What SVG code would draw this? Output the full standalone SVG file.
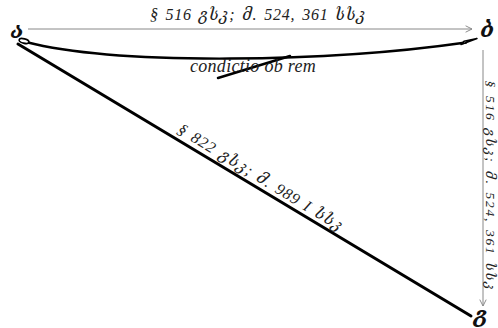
<svg xmlns="http://www.w3.org/2000/svg" width="498" height="328" viewBox="0 0 498 328">
<defs>
<marker id="open" viewBox="0 0 10 10" refX="9" refY="5" markerWidth="8" markerHeight="8" markerUnits="userSpaceOnUse" orient="auto">
<path d="M1 1 L9 5 L1 9" fill="none" stroke="#888" stroke-width="1.2"/>
</marker>
</defs>
<style>
.lbl{font-family:"Liberation Serif","DejaVu Serif",serif;font-style:italic;font-size:16px;letter-spacing:0.8px;word-spacing:2px;fill:#222}
.vlbl{font-family:"Liberation Serif","DejaVu Serif",serif;font-style:italic;font-size:13.5px;letter-spacing:1.7px;word-spacing:2px;fill:#222}
.cond{font-family:"Liberation Serif","DejaVu Serif",serif;font-style:italic;font-size:18px;letter-spacing:0.3px;fill:#222}
.node{font-family:"DejaVu Serif","Liberation Serif",serif;font-style:italic;font-weight:bold;font-size:22px;fill:#111}
.thin{stroke:#888;stroke-width:1;fill:none}
.thick{stroke:#000;fill:none;stroke-linecap:round}
</style>
<rect width="498" height="328" fill="#fff"/>
<g id="connectors">
<line class="thin" x1="28" y1="29" x2="472" y2="29" marker-end="url(#open)"/>
<line class="thin" x1="483" y1="50" x2="483" y2="306" marker-end="url(#open)"/>
<line class="thick" x1="18" y1="44" x2="471" y2="316" stroke-width="3"/>
<path class="thick" d="M26 42 C120 66 330 62 466 42.5" stroke-width="2.4"/>
<ellipse cx="24" cy="41" rx="5" ry="2.2" transform="rotate(15 24 41)" fill="#fff" stroke="#000" stroke-width="1.6"/>
<polygon points="461,44.5 477,38.5 464,41.2" fill="#fff" stroke="#000" stroke-width="1.5" stroke-linejoin="round"/>
<line class="thick" x1="218" y1="78" x2="290" y2="56" stroke-width="2.5"/>
<text class="lbl" x="258" y="20" text-anchor="middle">§ 516 გსკ; მ. 524, 361 სსკ</text>
<text class="cond" x="253" y="72" text-anchor="middle">condictio ob rem</text>
<text class="lbl" transform="translate(258 182) rotate(31.5)" text-anchor="middle">§ 822 გსკ; მ. 989 I სსკ</text>
<text class="vlbl" transform="translate(485.5 186) rotate(90)" text-anchor="middle">§ 516 გსკ; მ. 524, 361 სსკ</text>
</g>
<g id="node-a"><text class="node" x="17" y="38" text-anchor="middle">ა</text></g>
<g id="node-b"><text class="node" x="487" y="37" text-anchor="middle">ბ</text></g>
<g id="node-g"><text class="node" x="481" y="322" text-anchor="middle">გ</text></g>
</svg>
